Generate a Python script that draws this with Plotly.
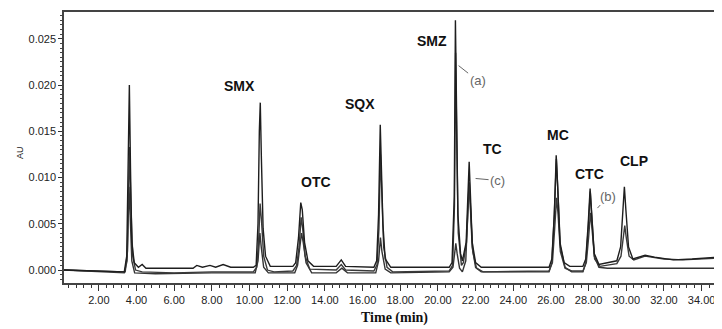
import plotly.graph_objects as go

# ---- data ----
time_a = [0.15, 1.5, 3.2, 3.35, 3.48, 3.55, 3.62, 3.68, 3.75, 3.88, 4.1, 4.3, 4.5, 7.0, 7.2, 7.5, 7.9, 8.2, 8.6, 9.0, 10.2,
          10.35, 10.45, 10.52, 10.57, 10.63, 10.72, 10.85, 11.1, 12.3,
          12.45, 12.6, 12.72, 12.8, 12.92, 13.1, 13.4, 14.6, 14.87, 15.1, 16.6,
          16.75, 16.85, 16.94, 17.0, 17.08, 17.2, 17.5, 20.6,
          20.75, 20.87, 20.93, 20.98, 21.06, 21.2, 21.3,
          21.5, 21.6, 21.66, 21.72, 21.82, 22.0, 22.3, 25.9,
          26.05, 26.18, 26.28, 26.36, 26.48, 26.7, 27.0, 27.7,
          27.85, 27.98, 28.08, 28.16, 28.3, 28.55, 29.0, 29.5,
          29.7, 29.82, 29.9, 29.98, 30.12, 30.35, 31.0, 31.5, 32.5, 33.5, 34.87]
au_a = [0.0000, -0.0001, -0.0002, -0.0002, 0.0015, 0.0090, 0.0200, 0.0110, 0.0030, 0.0008, 0.0003, 0.0006, 0.0002, 0.0002, 0.0005, 0.0003, 0.0005, 0.0003, 0.0006, 0.0003, 0.0003,
        0.0005, 0.0050, 0.0150, 0.0181, 0.0120, 0.0045, 0.0015, 0.0004, 0.0004,
        0.0008, 0.0035, 0.0073, 0.0065, 0.0030, 0.0010, 0.0004, 0.0004, 0.0011, 0.0004, 0.0003,
        0.0010, 0.0060, 0.0157, 0.0120, 0.0050, 0.0012, 0.0003, 0.0003,
        0.0008, 0.0080, 0.0270, 0.0190, 0.0060, 0.0018, 0.0010,
        0.0030, 0.0100, 0.0117, 0.0085, 0.0030, 0.0008, 0.0003, 0.0003,
        0.0012, 0.0060, 0.0124, 0.0090, 0.0030, 0.0008, 0.0004, 0.0004,
        0.0012, 0.0050, 0.0088, 0.0060, 0.0018, 0.0006, 0.0008, 0.0010,
        0.0025, 0.0070, 0.0090, 0.0065, 0.0025, 0.0012, 0.0016, 0.0014, 0.0011, 0.0012, 0.0014]

time_b = [0.15, 1.5, 3.2, 3.35, 3.5, 3.56, 3.63, 3.7, 3.8, 3.95, 4.3, 6.0, 8.0, 10.2,
          10.38, 10.48, 10.56, 10.63, 10.75, 10.95, 11.3, 12.3,
          12.5, 12.63, 12.74, 12.82, 12.95, 13.2, 14.6, 14.87, 15.1, 16.6,
          16.77, 16.87, 16.95, 17.02, 17.12, 17.3, 17.6, 20.6,
          20.78, 20.88, 20.94, 21.0, 21.08, 21.25, 21.35,
          21.52, 21.61, 21.67, 21.74, 21.85, 22.05, 22.4, 25.9,
          26.08, 26.2, 26.3, 26.38, 26.5, 26.75, 27.1, 27.7,
          27.88, 28.0, 28.1, 28.18, 28.32, 28.6, 29.0, 29.5,
          29.72, 29.83, 29.92, 30.0, 30.15, 30.4, 31.0, 32.0, 33.0, 34.87]
au_b = [0.0000, -0.0001, -0.0003, -0.0003, 0.0010, 0.0060, 0.0133, 0.0070, 0.0015, 0.0000, -0.0002, -0.0003, -0.0002, -0.0002,
        0.0003, 0.0030, 0.0072, 0.0055, 0.0015, 0.0000, -0.0002, -0.0001,
        0.0005, 0.0025, 0.0057, 0.0045, 0.0015, 0.0001, 0.0000, 0.0006, 0.0000, -0.0001,
        0.0006, 0.0045, 0.0125, 0.0085, 0.0025, 0.0003, -0.0002, -0.0001,
        0.0005, 0.0070, 0.0235, 0.0140, 0.0040, 0.0005, 0.0008,
        0.0030, 0.0080, 0.0095, 0.0065, 0.0020, 0.0002, -0.0002, -0.0001,
        0.0008, 0.0045, 0.0078, 0.0060, 0.0020, 0.0002, -0.0001, -0.0001,
        0.0008, 0.0035, 0.0062, 0.0045, 0.0012, 0.0004, 0.0005, 0.0007,
        0.0015, 0.0035, 0.0048, 0.0035, 0.0015, 0.0011, 0.0015, 0.0012, 0.0011, 0.0013]

time_c = [0.15, 1.5, 3.2, 3.4, 3.52, 3.6, 3.66, 3.75, 3.9, 5.0, 8.0, 10.3,
          10.45, 10.55, 10.62, 10.75, 11.0, 12.4,
          12.55, 12.68, 12.76, 12.85, 13.0, 13.3, 14.6, 14.9, 15.2, 16.7,
          16.85, 16.95, 17.03, 17.2, 17.5, 20.6,
          20.8, 20.9, 20.95, 21.02, 21.15, 21.3,
          21.48, 21.58, 21.65, 21.72, 21.82, 22.0, 22.3, 25.9,
          26.05, 26.18, 26.29, 26.37, 26.5, 26.75, 27.1, 27.7,
          27.85, 27.98, 28.09, 28.17, 28.3, 28.55, 29.0, 32.0, 34.87]
au_c = [0.0000, -0.0001, -0.0002, -0.0002, 0.0020, 0.0090, 0.0060, 0.0010, -0.0003, -0.0004, -0.0003, -0.0003,
        0.0010, 0.0040, 0.0025, 0.0003, -0.0003, -0.0003,
        0.0005, 0.0025, 0.0040, 0.0030, 0.0008, -0.0003, -0.0003, 0.0002, -0.0003, -0.0003,
        0.0010, 0.0035, 0.0020, 0.0001, -0.0003, -0.0002,
        0.0003, 0.0020, 0.0029, 0.0018, 0.0002, -0.0002,
        0.0010, 0.0060, 0.0092, 0.0070, 0.0025, 0.0003, -0.0002, -0.0002,
        0.0008, 0.0060, 0.0120, 0.0085, 0.0025, 0.0003, -0.0002, -0.0002,
        0.0008, 0.0045, 0.0085, 0.0060, 0.0015, 0.0003, 0.0002, 0.0002, 0.0002]

peak_names = ["SMX", "OTC", "SQX", "SMZ", "TC", "MC", "CTC", "CLP"]
peak_label_t = [9.47, 13.55, 15.87, 19.68, 22.9, 26.4, 28.04, 30.4]
peak_label_au = [0.0199, 0.0095, 0.0179, 0.0248, 0.0131, 0.0146, 0.0104, 0.0118]

trace_tags = ["(a)", "(b)", "(c)"]
tag_tip_t = [21.1, 28.47, 22.0]
tag_tip_au = [0.0221, 0.0067, 0.0099]

x_tick_vals = [2, 4, 6, 8, 10, 12, 14, 16, 18, 20, 22, 24, 26, 28, 30, 32, 34]
x_tick_text = ["2.00", "4.00", "6.00", "8.00", "10.00", "12.00", "14.00", "16.00", "18.00",
               "20.00", "22.00", "24.00", "26.00", "28.00", "30.00", "32.00", "34.00"]
y_tick_vals = [0.000, 0.005, 0.010, 0.015, 0.020, 0.025]
y_tick_text = ["0.000", "0.005", "0.010", "0.015", "0.020", "0.025"]

# ---- figure ----
fig = go.Figure()
for t, a, col in [(time_c, au_c, "#333333"), (time_b, au_b, "#3a3a3a"), (time_a, au_a, "#1e1e1e")]:
    fig.add_trace(go.Scatter(x=t, y=a, mode="lines", line=dict(color=col, width=1.4),
                             showlegend=False, hoverinfo="skip"))

annotations = []
for name, t, a in zip(peak_names, peak_label_t, peak_label_au):
    annotations.append(dict(x=t, y=a, xref="x", yref="y", text="<b>%s</b>" % name, showarrow=False,
                            font=dict(family="Liberation Sans, Arial, sans-serif", size=14, color="#111")))

tag_offsets = [(19, 15), (11, -12), (22, 2)]
for tag, t, a, (ax, ay) in zip(trace_tags, tag_tip_t, tag_tip_au, tag_offsets):
    annotations.append(dict(x=t, y=a, xref="x", yref="y", text=tag, showarrow=True, arrowhead=0,
                            arrowwidth=1, arrowcolor="#666", ax=ax, ay=ay, standoff=0,
                            font=dict(family="Liberation Sans, Arial, sans-serif", size=13, color="#666")))

annotations.append(dict(x=0.5046, y=-0.129, xref="paper", yref="paper", text="<b>Time (min)</b>",
                        showarrow=False, yanchor="middle",
                        font=dict(family="Liberation Serif, Times New Roman, serif", size=14, color="#111")))
annotations.append(dict(x=-0.078, y=0.483, xref="paper", yref="paper", text="AU", textangle=-90,
                        showarrow=False, font=dict(family="Liberation Sans, Arial, sans-serif", size=9, color="#222")))

# the page body adds an 8 px offset, so the figure is sized to fit the 722x329 window
fig.update_layout(
    width=714, height=321,
    margin=dict(l=56, r=2, t=4, b=46),
    paper_bgcolor="white", plot_bgcolor="white",
    annotations=annotations,
    xaxis=dict(range=[0.15, 34.87], tickmode="array", tickvals=x_tick_vals, ticktext=x_tick_text,
               ticks="outside", ticklen=6, tickwidth=1, tickcolor="#333",
               minor=dict(dtick=0.4, tick0=0, ticks="outside", ticklen=3, tickcolor="#333"),
               showline=True, linecolor="#444", linewidth=1.5, mirror=True, showgrid=False, zeroline=False,
               tickfont=dict(family="Liberation Sans Narrow, Arial Narrow, Liberation Sans, sans-serif", size=11, color="#222")),
    yaxis=dict(range=[-0.0014, 0.0279], tickmode="array", tickvals=y_tick_vals, ticktext=y_tick_text,
               ticks="outside", ticklen=4, tickwidth=1, tickcolor="#333",
               minor=dict(dtick=0.0005, tick0=0, ticks="outside", ticklen=2, tickcolor="#444"),
               showline=True, linecolor="#444", linewidth=1.5, mirror=True, showgrid=False, zeroline=False,
               tickfont=dict(family="Liberation Sans Narrow, Arial Narrow, Liberation Sans, sans-serif", size=11, color="#222")),
)

fig.write_html("out.html")
